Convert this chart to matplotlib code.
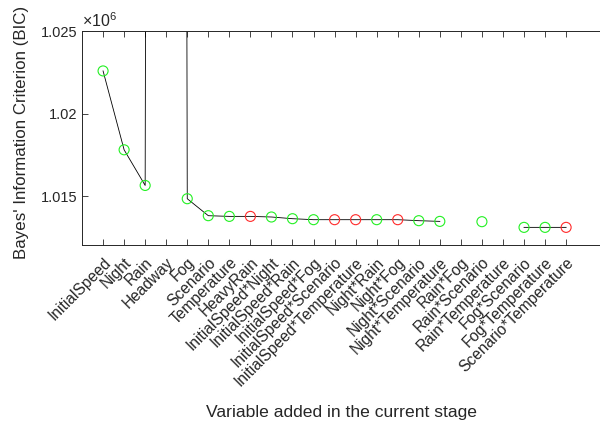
import numpy as np
import matplotlib
matplotlib.use("Agg")
import matplotlib.pyplot as plt

plt.rcParams['font.family'] = ['Liberation Sans', 'DejaVu Sans']
plt.rcParams['mathtext.fontset'] = 'custom'
plt.rcParams['mathtext.rm'] = 'Liberation Sans'
plt.rcParams['mathtext.default'] = 'regular'

variables = ['InitialSpeed', 'Night', 'Rain', 'Headway', 'Fog', 'Scenario',
             'Temperature', 'HeavyRain', 'InitialSpeed*Night', 'InitialSpeed*Rain',
             'InitialSpeed*Fog', 'InitialSpeed*Scenario', 'InitialSpeed*Temperature',
             'Night*Rain', 'Night*Fog', 'Night*Scenario', 'Night*Temperature',
             'Rain*Fog', 'Rain*Scenario', 'Rain*Temperature', 'Fog*Scenario',
             'Fog*Temperature', 'Scenario*Temperature']

# BIC after each stage (Headway is far off the top of the axis)
bic = np.array([1022582, 1017805, 1015647, 1600000, 1014843, 1013815,
                1013773, 1013773, 1013736, 1013633, 1013573, 1013573,
                1013573, 1013573, 1013573, 1013513, 1013470, np.nan,
                1013452, np.nan, 1013108, 1013108, 1013108])

# 1 = term kept (green), 0 = term rejected (red)
kept = np.array([1, 1, 1, 1, 1, 1, 1, 0, 1, 1, 1, 0, 0, 1, 0, 1, 1, 1, 1, 1, 1, 1, 0])

ytick_vals = [1.015e6, 1.02e6, 1.025e6]
ytick_labels = ['1.015', '1.02', '1.025']

x = np.arange(1, len(variables) + 1)
col = np.where(kept == 1, '#22f022', '#ff2a2a')
txt = '#262626'

fig = plt.figure(figsize=(6, 4.23), dpi=100)
ax = fig.add_axes([0.1367, 0.4208, 0.8633, 0.5059])

ax.plot(x, bic, color='black', lw=0.6, zorder=2)
ok = ~np.isnan(bic)
ax.scatter(x[ok], bic[ok], s=52, facecolors='none', edgecolors=col[ok],
           linewidths=0.8, zorder=3)

ax.set_xlim(0, 24.61)
ax.set_ylim(1.01204e6, 1.025e6)
ax.set_xticks(x)
ax.set_xticklabels(variables, rotation=45, ha='right', va='top',
                   rotation_mode='anchor', fontsize=11.2, color=txt)
ax.set_yticks(ytick_vals)
ax.set_yticklabels(ytick_labels, fontsize=10.5, color=txt)
ax.tick_params(direction='in', top=True, length=4, width=0.6, colors=txt,
               labelcolor=txt)
ax.tick_params(axis='x', pad=7)
for s in ['left', 'bottom', 'top']:
    ax.spines[s].set_linewidth(0.7)
    ax.spines[s].set_color(txt)
ax.spines['right'].set_visible(False)

ax.text(0.0, 1.018, r'×10$^{6}$', transform=ax.transAxes, fontsize=11.5,
        color=txt, ha='left', va='baseline')
ax.set_ylabel("Bayes' Information Criterion (BIC)", fontsize=12.2, color=txt,
              labelpad=8)
ax.yaxis.label.set_y(0.528)
ax.set_xlabel('Variable added in the current stage', fontsize=12.6, color=txt,
              labelpad=12)

fig.savefig('out.png', dpi=100)
